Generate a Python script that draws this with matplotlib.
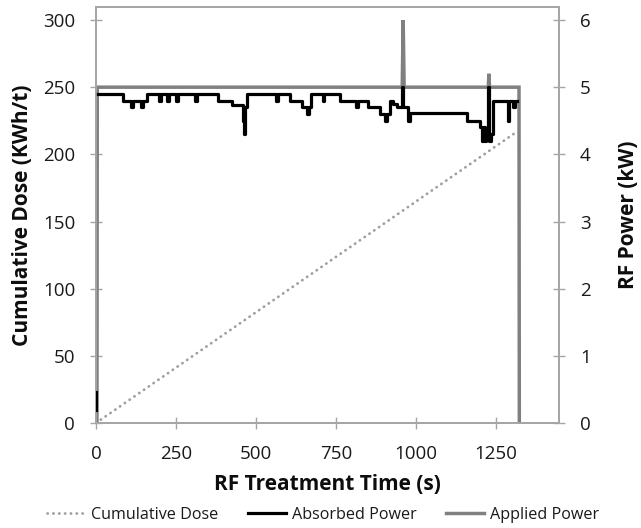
import matplotlib
matplotlib.use("Agg")
import matplotlib.pyplot as plt
from matplotlib.lines import Line2D
import numpy as np

plt.rcParams['font.family'] = ['Open Sans', 'DejaVu Sans']

# Cumulative dose (left axis, kWh/t)
dose_t = [0, 1316]
dose_v = [0, 217]

# Absorbed power (right axis, kW), step series (NaN = gap in the trace)
absorbed_t = [0, 0, 1, 5, 84, 110, 115, 142, 147, 159, 198, 203, 223, 228, 251, 256,
              310, 315, 381, 425, 458, 462, 467, 472, 564, 569, 606, 644, 660, 666,
              671, 708, 713, 762, 813, 818, 850, 887, 904, 909, 918, 928, 940, 955,
              960, 975, 981, 1159, 1200, 1205, 1210, 1215, 1220, 1225, 1229, 1234,
              1240, 1288, 1292, 1304, 1308, 1316]
absorbed_kw = [0.2, 0.46, np.nan, 4.9, 4.8, 4.7, 4.8, 4.7, 4.8, 4.9, 4.8, 4.9, 4.8, 4.9, 4.8, 4.9,
               4.8, 4.9, 4.8, 4.73, 4.5, 4.3, 4.7, 4.9, 4.8, 4.9, 4.8, 4.7, 4.6, 4.7,
               4.9, 4.8, 4.9, 4.8, 4.7, 4.8, 4.7, 4.6, 4.5, 4.6, 4.8, 4.75, 4.7, 5.0,
               4.7, 4.5, 4.62, 4.5, 4.4, 4.2, 4.4, 4.2, 4.3, 5.0, 4.2, 4.3,
               4.8, 4.5, 4.8, 4.7, 4.8, 4.8]

# Applied power (right axis, kW)
applied_t = [3, 4, 957, 960, 963, 1226, 1228, 1230, 1322, 1323]
applied_kw = [0, 5, 5, 6, 5, 5, 5.2, 5, 5, 0]

x_ticks = [0, 250, 500, 750, 1000, 1250]
left_ticks = [0, 50, 100, 150, 200, 250, 300]
right_ticks = [0, 1, 2, 3, 4, 5, 6]

W, H = 641, 528
fig = plt.figure(figsize=(W / 100, H / 100), dpi=100)
L, R, B, T = 96, 559, 423, 7
ax = fig.add_axes([L / W, 1 - B / H, (R - L) / W, (B - T) / H])
ax2 = ax.twinx()

axis_col = '#A6A6A6'
dot_style = (0, (0.1, 2.0))
dot_col = '#A0A0A0'
ax.set_xlim(0, 1447)
ax.set_ylim(0, 309.7)
ax2.set_ylim(0, 6.194)

ax.plot(dose_t, dose_v, color=dot_col, lw=2.0, linestyle=dot_style,
        dash_capstyle='round', zorder=2)
ax2.plot(applied_t, applied_kw, color='#808080', lw=2.5, zorder=2, solid_joinstyle='miter')
ax2.plot(absorbed_t, absorbed_kw, color='black', lw=2.3, drawstyle='steps-post', zorder=3)

ax.set_xticks(x_ticks)
ax.set_yticks(left_ticks)
ax2.set_yticks(right_ticks)

for a in (ax, ax2):
    for s in a.spines.values():
        s.set_color(axis_col)
        s.set_linewidth(1.3)
    a.tick_params(direction='inout', length=9, width=1.0, color=axis_col,
                  labelsize=13.5, pad=10.5, labelcolor='#1a1a1a')
ax.tick_params(axis='x', pad=11.3)

lab_kw = dict(ha='center', va='center', fontsize=15, fontweight='bold', color='#0d0d0d')
fig.text(23 / W, 1 - 215 / H, 'Cumulative Dose (KWh/t)', rotation=90, **lab_kw)
fig.text(629 / W, 1 - 215 / H, 'RF Power (kW)', rotation=90, **lab_kw)
fig.text(327 / W, 1 - 484 / H, 'RF Treatment Time (s)', **lab_kw)

handles = [Line2D([], [], color=dot_col, lw=2.0, linestyle=dot_style, dash_capstyle='round'),
           Line2D([], [], color='black', lw=2.3),
           Line2D([], [], color='#808080', lw=2.5)]
labels = ['Cumulative Dose', 'Absorbed Power', 'Applied Power']
fig.legend(handles, labels, loc='center', bbox_to_anchor=(323 / W, 1 - 515 / H), ncol=3,
           frameon=False, fontsize=11.6, handlelength=2.4, handletextpad=0.35,
           columnspacing=1.8, borderpad=0, labelcolor='#1a1a1a')

fig.savefig('out.png', dpi=100)
